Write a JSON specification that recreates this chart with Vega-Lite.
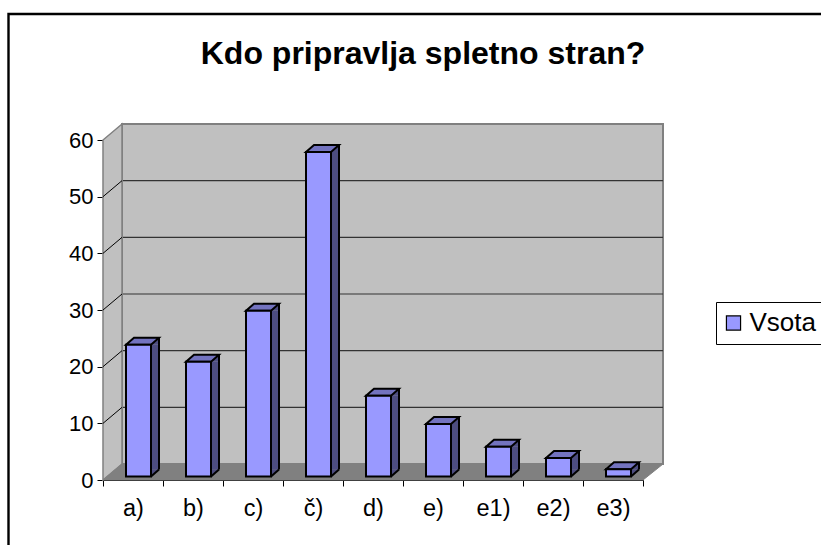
{
"$schema":"https://vega.github.io/schema/vega-lite/v6.json",
"width":540,"height":340,
"autosize":"none",
"padding":{"left":103,"top":140,"right":178,"bottom":65},
"background":"#ffffff",
"title":{"text":"Kdo pripravlja spletno stran?","font":"Liberation Sans","fontSize":32,"fontWeight":"bold","color":"#000000","anchor":"middle","baseline":"alphabetic","dx":50,"offset":-87,"frame":"group"},
"config":{"view":{"stroke":null},"font":"Liberation Sans"},
"data":{"values":[
{"odgovor":"a)","vsota":23},{"odgovor":"b)","vsota":20},{"odgovor":"c)","vsota":29},{"odgovor":"č)","vsota":57},{"odgovor":"d)","vsota":14},{"odgovor":"e)","vsota":9},{"odgovor":"e1)","vsota":5},{"odgovor":"e2)","vsota":3},{"odgovor":"e3)","vsota":1}]},
"encoding":{
"x":{"field":"odgovor","type":"nominal","sort":null,"scale":{"paddingInner":0,"paddingOuter":0},
"axis":{"title":null,"labelAngle":0,"labelFontSize":23.5,"labelFont":"Liberation Sans","labelColor":"#000","labelPadding":10,"domainColor":"#000","tickColor":"#000","tickSize":6,"tickBand":"extent","grid":false,"domain":true,"domainWidth":1,"tickWidth":1}},
"y":{"field":"vsota","type":"quantitative","scale":{"domain":[0,60],"nice":false},
"axis":{"title":null,"values":[0,10,20,30,40,50,60],"labelFontSize":22,"labelFont":"Liberation Sans","labelColor":"#000","labelPadding":4,"domainColor":"#000","tickColor":"#000","tickSize":6,"grid":false}}
},
"layer":[
{"data":{"values":[{"odgovor":"a)","vsota":0}]},
 "mark":{"type":"point","filled":false,"opacity":1,"size":4,"stroke":"#000000","strokeWidth":2.4,"shape":"M-124.5,100V-466H720"}},
{"data":{"values":[{"odgovor":"a)","vsota":0}]},
 "mark":{"type":"point","filled":true,"opacity":1,"size":4,"fill":"#c0c0c0","stroke":"#808080","strokeWidth":2,"shape":"M-11,-16H530V-356H-11Z"}},
{"data":{"values":[{"odgovor":"a)","vsota":0}]},
 "mark":{"type":"point","filled":true,"opacity":1,"size":4,"fill":"#c0c0c0","stroke":"#808080","strokeWidth":1.5,"shape":"M-30,0L-11,-16V-356L-30,-340Z"}},
{"data":{"values":[{"odgovor":"a)","vsota":0}]},
 "mark":{"type":"point","filled":true,"opacity":1,"size":4,"fill":"#808080","stroke":"#808080","strokeWidth":1,"shape":"M-30,0H510L530,-16H-11Z"}},
{"data":{"values":[{"vsota":10},{"vsota":20},{"vsota":30},{"vsota":40},{"vsota":50}]},
 "encoding":{"x":{"value":20},"x2":{"value":560}},
 "mark":{"type":"rule","color":"#333333","strokeWidth":1.2,"yOffset":-16}},
{"data":{"values":[{"odgovor":"a)","vsota":10},{"odgovor":"a)","vsota":20},{"odgovor":"a)","vsota":30},{"odgovor":"a)","vsota":40},{"odgovor":"a)","vsota":50}]},
 "mark":{"type":"point","filled":false,"opacity":1,"size":4,"stroke":"#000000","strokeWidth":1,"shape":"M-30,0L-11,-16"}},
{"encoding":{"y2":{"datum":0}},"mark":{"type":"bar","size":8,"xOffset":22,"yOffset":-5,"y2Offset":-10.5,"fill":"#4d4d80","stroke":null}},
{"mark":{"type":"point","filled":true,"opacity":1,"size":4,"fill":"#4d4d80","strokeWidth":0,"xOffset":5.5,"yOffset":-5,"shape":"M12.5,0L20.5,-7V0Z"}},
{"encoding":{"y":{"datum":0}},"mark":{"type":"point","filled":true,"opacity":1,"size":4,"fill":"#4d4d80","strokeWidth":0,"xOffset":5.5,"yOffset":-3.5,"shape":"M12.5,0L20.5,-7H12.5Z"}},
{"encoding":{"y":{"datum":0}},"mark":{"type":"point","filled":false,"opacity":1,"size":4,"stroke":"#000000","strokeWidth":2,"xOffset":5.5,"yOffset":-3.5,"shape":"M12.5,0L20.5,-7"}},
{"encoding":{"y2":{"datum":0}},"mark":{"type":"rule","color":"#000000","strokeWidth":2,"xOffset":26,"yOffset":-12,"y2Offset":-10.5}},
{"mark":{"type":"point","filled":true,"opacity":1,"size":4,"fill":"#7373bf","stroke":"#000000","strokeWidth":2,"xOffset":5.5,"yOffset":-5,"shape":"M-12.5,0H12.5L20.5,-7H-4.5Z"}},
{"encoding":{"y2":{"datum":0},"color":{"datum":"Vsota","scale":{"range":["#9999ff"]},
  "legend":{"title":null,"orient":"none","legendX":613,"legendY":162,"symbolType":"square","symbolSize":200,"symbolStrokeColor":"#000","symbolStrokeWidth":1.2,"symbolOffset":-3.5,"labelFontSize":26,"labelFont":"Liberation Sans","labelColor":"#000","labelOffset":3,"strokeColor":"#000","padding":8,"fillColor":"#fff"}}},
 "mark":{"type":"bar","size":25,"xOffset":5.5,"yOffset":-5,"y2Offset":-3.5,"stroke":"#000000","strokeWidth":2}}
]}
